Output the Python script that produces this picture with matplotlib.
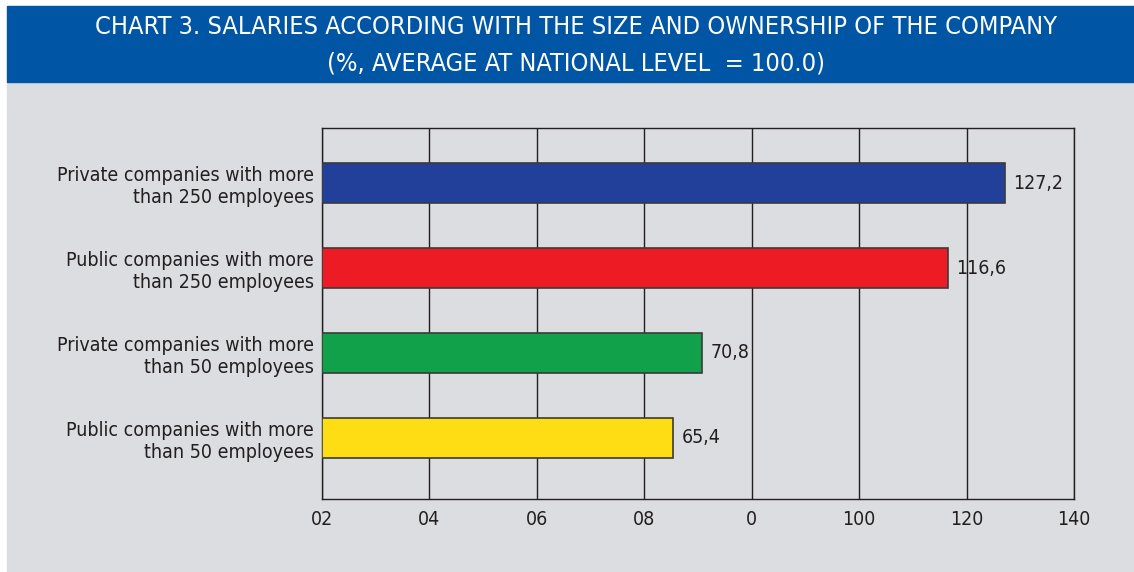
import matplotlib
matplotlib.use("Agg")
import matplotlib.pyplot as plt
from matplotlib.patches import Rectangle

categories = [
    "Private companies with more\nthan 250 employees",
    "Public companies with more\nthan 250 employees",
    "Private companies with more\nthan 50 employees",
    "Public companies with more\nthan 50 employees",
]
values = [127.2, 116.6, 70.8, 65.4]
value_labels = ["127,2", "116,6", "70,8", "65,4"]
bar_colors = ["#22409a", "#ed1c24", "#10a14a", "#ffdd15"]
tick_values = [0, 20, 40, 60, 80, 100, 120, 140]
tick_labels = ["02", "04", "06", "08", "0", "100", "120", "140"]
title_lines = [
    "CHART 3. SALARIES ACCORDING WITH THE SIZE AND OWNERSHIP OF THE COMPANY",
    "(%, AVERAGE AT NATIONAL LEVEL  = 100.0)",
]

plt.rcParams["font.family"] = ["DejaVu Sans"]
plt.rcParams["font.stretch"] = "condensed"

W, H = 1134, 572
fig = plt.figure(figsize=(W / 100, H / 100), dpi=100, facecolor="white")

panel_gray = "#dcdde0"
banner_blue = "#0055a5"
ink = "#231f20"

# background panel and title banner, kept behind the axes
fig.patches.append(Rectangle((7 / W, 0), 1 - 7 / W, 1 - 82 / H,
                             transform=fig.transFigure, color=panel_gray, zorder=-5))
fig.patches.append(Rectangle((7 / W, 1 - 82 / H), 1 - 7 / W, 76 / H,
                             transform=fig.transFigure, color=banner_blue, zorder=-5))
fig.text(576 / W, 1 - 27 / H, title_lines[0], color="white", fontsize=18.2,
         ha="center", va="center")
fig.text(576 / W, 1 - 64 / H, title_lines[1], color="white", fontsize=18.2,
         ha="center", va="center")

ax = fig.add_axes([322 / W, 1 - 499 / H, (1074 - 322) / W, (499 - 128) / H])
ax.set_zorder(2)
ax.set_facecolor(panel_gray)

ypos = list(range(len(values)))
ax.barh(ypos, values, height=0.47, color=bar_colors, edgecolor="#3a3a3a",
        linewidth=1.2, zorder=3)
for y, v, lab in zip(ypos, values, value_labels):
    ax.text(v + 1.5, y, lab, va="center", ha="left", fontsize=14, color=ink)

ax.set_xlim(0, 140)
ax.set_ylim(3.72, -0.65)
ax.set_xticks(tick_values)
ax.set_xticklabels(tick_labels, fontsize=14, color=ink)
ax.set_yticks(ypos)
ax.set_yticklabels(categories, fontsize=14, color=ink, linespacing=1.2)
ax.tick_params(axis="y", length=0, pad=6)
ax.tick_params(axis="x", length=0, pad=8)
ax.grid(axis="x", color=ink, linewidth=1.0, zorder=1)
for s in ax.spines.values():
    s.set_color(ink)
    s.set_linewidth(1.0)

fig.savefig("out.png", dpi=100, facecolor="white")
